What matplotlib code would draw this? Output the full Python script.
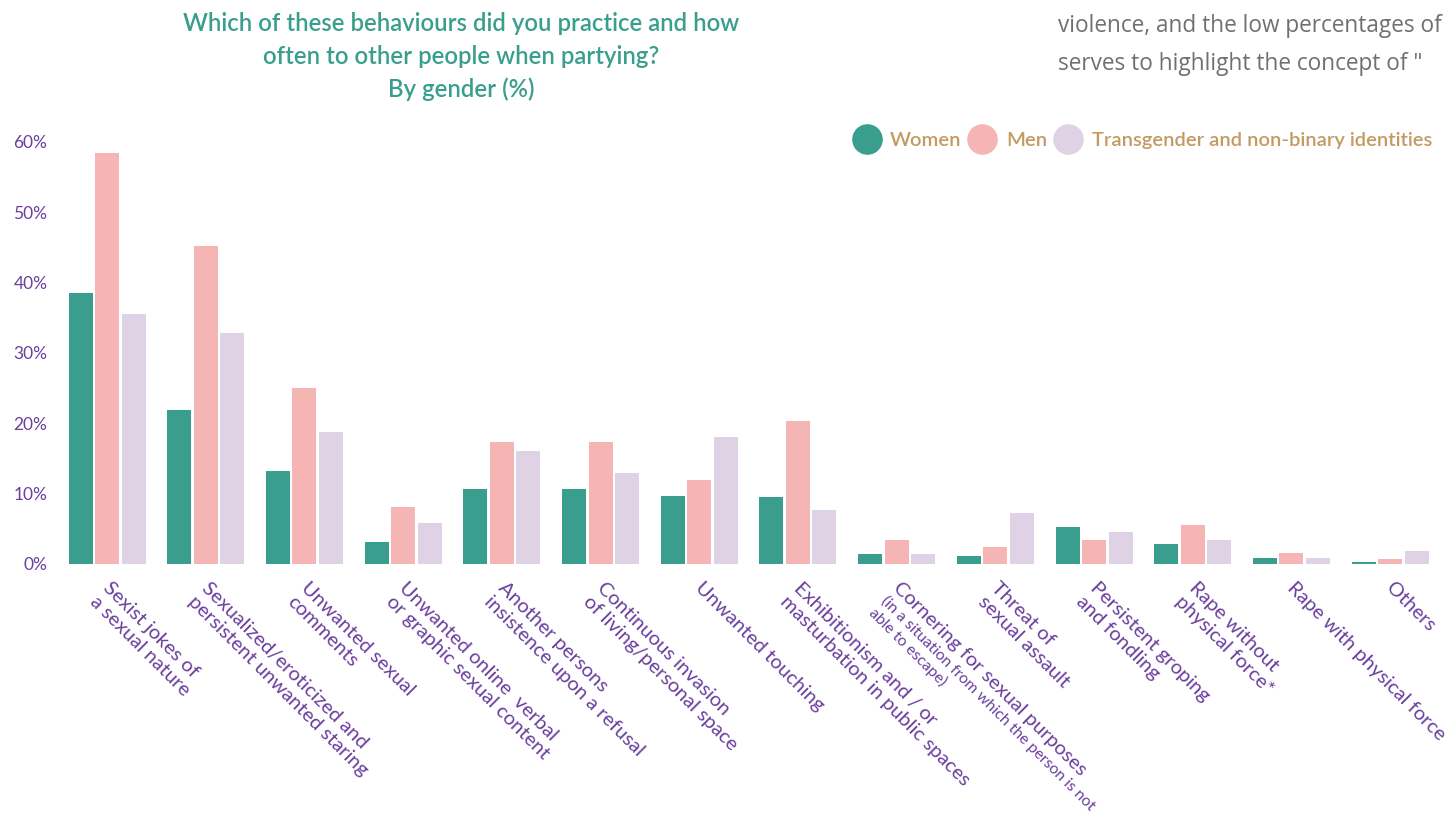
import matplotlib
matplotlib.use("Agg")
import matplotlib.pyplot as plt
from matplotlib.lines import Line2D
from matplotlib.transforms import ScaledTranslation
import numpy as np

# ---- data -------------------------------------------------------------
categories = [
    "Sexist jokes of\na sexual nature",
    "Sexualized/eroticized and\npersistent unwanted staring",
    "Unwanted sexual\ncomments",
    "Unwanted online  verbal\nor graphic sexual content",
    "Another persons\ninsistence upon a refusal",
    "Continuous invasion\nof living/personal space",
    "Unwanted touching",
    "Exhibitionism and / or\nmasturbation in public spaces",
    "Cornering for sexual purposes",
    "Threat of\nsexual assault",
    "Persistent groping\nand fondling",
    "Rape without\nphysical force*",
    "Rape with physical force",
    "Others",
]
cornering_note = "(in a situation from which the person is not\nable to escape)"

women = [38.5, 21.9, 13.2, 3.1, 10.7, 10.7, 9.7, 9.5, 1.4, 1.2, 5.3, 2.8, 0.8, 0.25]
men = [58.4, 45.2, 25.0, 8.1, 17.3, 17.3, 11.9, 20.3, 3.4, 2.4, 3.4, 5.6, 1.5, 0.65]
trans = [35.5, 32.8, 18.75, 5.8, 16.0, 12.9, 18.0, 7.7, 1.4, 7.2, 4.6, 3.4, 0.8, 1.9]

series_names = ["Women", "Men", "Transgender and non-binary identities"]
yticks = [0, 10, 20, 30, 40, 50, 60]

title = ("Which of these behaviours did you practice and how\n"
         "often to other people when partying?\n"
         "By gender (%)")
side_lines = ["violence, and the low percentages of",
              "serves to highlight the concept of \""]

# ---- style ------------------------------------------------------------
TEAL = "#3a9e8f"
PINK = "#f4b5b4"
LAVENDER = "#dfd2e4"
PURPLE = "#6a3f9e"
GOLD = "#c29a62"
GREY = "#707070"
series_colors = [TEAL, PINK, LAVENDER]

plt.rcParams["font.family"] = ["Lato", "DejaVu Sans"]

W, H = 1452, 833
fig = plt.figure(figsize=(W / 100, H / 100), dpi=100)

# axes placed in pixel terms: zero line at y=564, 60% at y=141.7
ax_left, ax_bottom_px, ax_top_px = 60, 564, 141.7
ax = fig.add_axes([ax_left / W, (H - ax_bottom_px) / H,
                   1 - ax_left / W, (ax_bottom_px - ax_top_px) / H])

step = 98.7          # pixels between group centres
first_center = 107   # pixel x of first group centre
ax.set_xlim((ax_left - first_center) / step, (W - first_center) / step)
ax.set_ylim(0, 60)

x = np.arange(len(categories))
bar_w = 24 / step
bar_off = 26.5 / step
for vals, color, k in zip([women, men, trans], series_colors, [-1, 0, 1]):
    ax.bar(x + k * bar_off, vals, width=bar_w, color=color, linewidth=0)

for s in ax.spines.values():
    s.set_visible(False)

ax.set_yticks(yticks)
ax.set_yticklabels([f"{v}%" for v in yticks])
ax.tick_params(axis="y", length=0, pad=9, labelsize=12.5, labelcolor=PURPLE)

ax.set_xticks(x)
ax.set_xticklabels(categories, rotation=-45, ha="left", va="top",
                   rotation_mode="anchor", multialignment="left",
                   linespacing=1.15, fontsize=14.5, color=PURPLE)
x_pad = 11
ax.tick_params(axis="x", length=0, pad=x_pad)
label_shift = ScaledTranslation(5 / 100, 0, fig.dpi_scale_trans)
for lbl in ax.get_xticklabels():
    lbl.set_transform(lbl.get_transform() + label_shift)

# smaller explanatory note under the "Cornering" label
ci = categories.index("Cornering for sexual purposes")
ax.annotate(cornering_note, xy=(x[ci], 0), xycoords=("data", "axes fraction"),
            xytext=(-6, -x_pad - 10), textcoords="offset points",
            rotation=-45, ha="left", va="top", rotation_mode="anchor",
            multialignment="left", linespacing=1.15, fontsize=11.3,
            color=PURPLE, annotation_clip=False)

# ---- title, side text, legend -----------------------------------------
fig.text(461 / W, 1 - 12 / H, title, ha="center", va="top", fontsize=17.2,
         color=TEAL, fontweight="semibold", linespacing=1.5)

for i, line in enumerate(side_lines):
    fig.text(1058 / W, 1 - (26 + 38 * i) / H, line, ha="left", va="center",
             fontsize=16.3, color=GREY, family=["Open Sans", "DejaVu Sans"])

handles = [Line2D([], [], marker="o", linestyle="", markersize=21,
                  markerfacecolor=c, markeredgecolor=c) for c in series_colors]
leg = fig.legend(handles, series_names, loc="center left",
                 bbox_to_anchor=(852 / W, 1 - 140 / H), ncol=3, frameon=False,
                 handlelength=1.45, handletextpad=0.45, columnspacing=0.3,
                 borderpad=0, borderaxespad=0,
                 prop={"size": 14.5, "weight": "semibold"})
for t in leg.get_texts():
    t.set_color(GOLD)

fig.savefig("out.png", dpi=100)
